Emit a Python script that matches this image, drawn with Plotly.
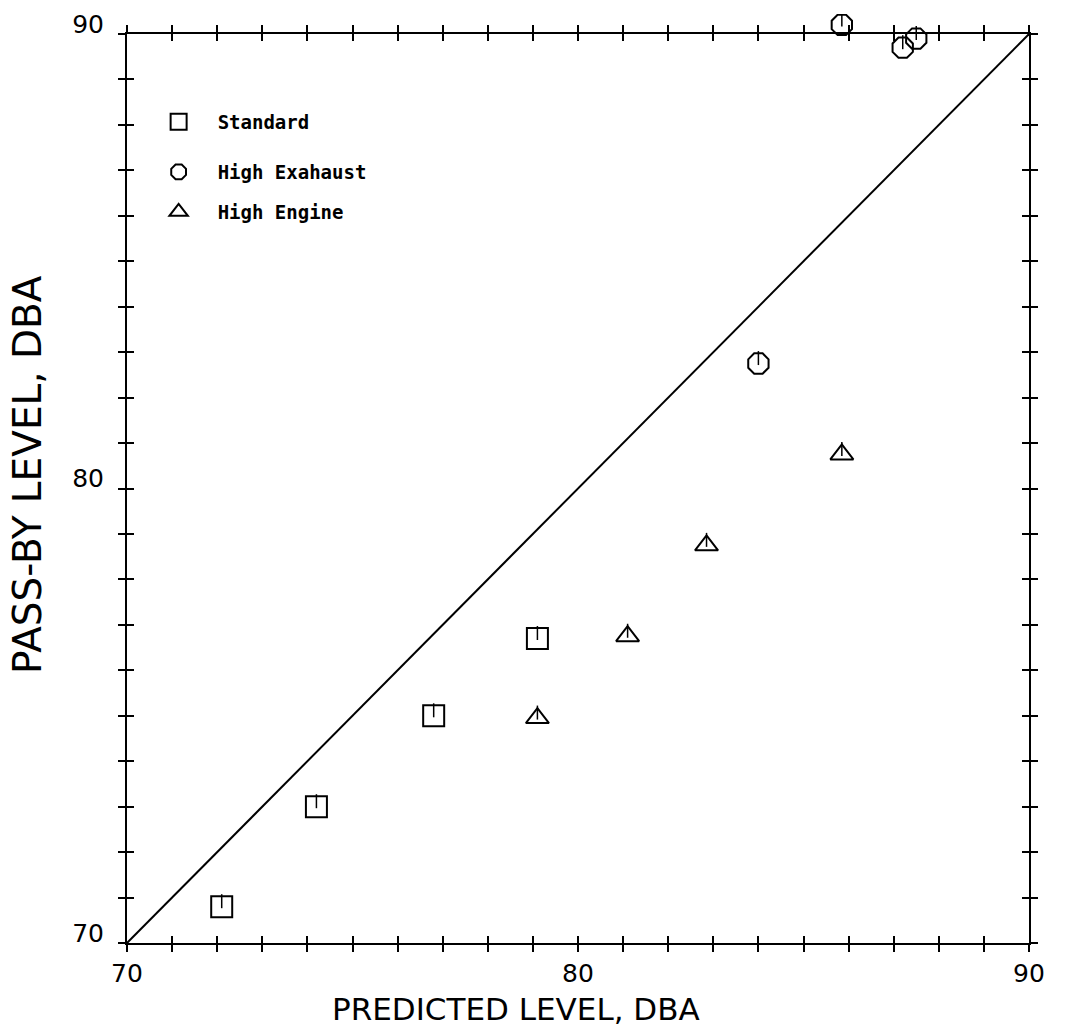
import plotly.graph_objects as go

# ---- data ----
std_x = [72.1, 74.2, 76.8, 79.1]
std_y = [70.8, 73.0, 75.0, 76.7]
exh_x = [85.85, 87.2, 87.5, 84.0]
exh_y = [90.2, 89.7, 89.9, 82.75]
eng_x = [79.1, 81.1, 82.85, 85.85]
eng_y = [74.95, 76.75, 78.75, 80.75]
diag = [70, 90]

series_names = ["Standard", "High Exahaust", "High Engine"]
tick_vals = [70, 80, 90]
tick_text = ["70", "80", "90"]
x_title = "PREDICTED LEVEL, DBA"
y_title = "PASS-BY LEVEL, DBA"

AX_RANGE = [70, 90]
TICK_FONT = dict(family="DejaVu Sans", size=25, color="black")
LEG_FONT = dict(family="DejaVu Sans Mono", size=19, color="black", weight="bold")
mark_line = dict(color="black", width=2)

# layout geometry
H, W = 1031, 1065
M_T, M_B, M_L, M_R = 14, 88, 127, 36
PLOT_H_PX = 909                       # height of the framed plot box
PAPER_H = H - M_T - M_B               # 929
main_top = PLOT_H_PX / PAPER_H
ext_range = [AX_RANGE[0], AX_RANGE[0] + (AX_RANGE[1] - AX_RANGE[0]) / main_top]

fig = go.Figure()

fig.add_trace(go.Scatter(x=diag, y=diag, mode="lines",
                         line=dict(color="black", width=2),
                         showlegend=False, hoverinfo="skip"))

fig.add_trace(go.Scatter(x=std_x, y=std_y, mode="markers", name=series_names[0],
                         marker=dict(symbol="square-open", size=21, line=mark_line, color="black"),
                         legend="legend"))
# exhaust points sit on the top frame; drawn on an extended (hidden) subplot so none are culled
fig.add_trace(go.Scatter(x=exh_x, y=exh_y, mode="markers", name=series_names[1],
                         marker=dict(symbol="octagon-open", size=22, line=mark_line, color="black"),
                         legend="legend2", xaxis="x3", yaxis="y3"))
fig.add_trace(go.Scatter(x=eng_x, y=eng_y, mode="markers", name=series_names[2],
                         marker=dict(symbol="triangle-up-open", size=20, line=mark_line, color="black"),
                         legend="legend3"))

# small inner strokes of the plotting symbols
inner_off = 0.12
for xs, ys in [(std_x, std_y), (exh_x, exh_y), (eng_x, eng_y)]:
    fig.add_trace(go.Scatter(x=xs, y=[v + inner_off for v in ys], mode="markers",
                             marker=dict(symbol="line-ns", size=10,
                                         line=dict(color="black", width=1.5)),
                             showlegend=False, hoverinfo="skip", xaxis="x3", yaxis="y3"))

# invisible trace to activate overlay axes (inside ticks)
fig.add_trace(go.Scatter(x=[diag[0]], y=[diag[0]], xaxis="x2", yaxis="y2", mode="markers",
                         marker=dict(opacity=0), showlegend=False, hoverinfo="skip"))

common = dict(range=AX_RANGE, showgrid=False, zeroline=False, showline=True,
              linecolor="black", linewidth=2, mirror="ticks", automargin=False,
              tickvals=tick_vals, ticklen=7, tickwidth=2, tickcolor="black")

leg_common = dict(x=0.014, xanchor="left", yanchor="middle", font=LEG_FONT,
                  bgcolor="rgba(0,0,0,0)", itemwidth=68)

fig.update_layout(
    xaxis=dict(**common, ticks="outside", ticktext=tick_text, tickfont=TICK_FONT,
               ticklabelstandoff=0,
               minor=dict(dtick=1, ticks="outside", ticklen=7, tickwidth=2, tickcolor="black")),
    yaxis=dict(**common, ticks="outside", ticktext=tick_text, tickfont=TICK_FONT,
               domain=[0, main_top], ticklabelstandoff=9, ticklabelshift=-10,
               minor=dict(dtick=1, ticks="outside", ticklen=7, tickwidth=2, tickcolor="black")),
    xaxis2=dict(**common, overlaying="x", anchor="y2", side="bottom", ticks="inside",
                showticklabels=False,
                minor=dict(dtick=1, ticks="inside", ticklen=7, tickwidth=2, tickcolor="black")),
    yaxis2=dict(**common, overlaying="y", anchor="x2", side="left", ticks="inside",
                showticklabels=False,
                minor=dict(dtick=1, ticks="inside", ticklen=7, tickwidth=2, tickcolor="black")),
    xaxis3=dict(range=AX_RANGE, domain=[0, 1], anchor="y3", visible=False, automargin=False),
    yaxis3=dict(range=ext_range, domain=[0, 1], anchor="x3", visible=False, automargin=False),
    width=W, height=H,
    margin=dict(l=M_L, r=M_R, t=M_T, b=M_B, autoexpand=False),
    plot_bgcolor="rgba(0,0,0,0)", paper_bgcolor="white",
    legend=dict(**leg_common, y=(943 - 122) / PAPER_H),
    legend2=dict(**leg_common, y=(943 - 172) / PAPER_H),
    legend3=dict(**leg_common, y=(943 - 212) / PAPER_H),
    annotations=[
        dict(text=x_title, xref="paper", yref="paper", x=0.431, y=(943 - 1029) / PAPER_H,
             xanchor="center", yanchor="bottom", showarrow=False,
             font=dict(family="DejaVu Sans", size=31, color="black")),
        dict(text=y_title, xref="paper", yref="paper", x=-0.111, y=(943 - 474) / PAPER_H,
             xanchor="center", yanchor="middle", showarrow=False, textangle=-90,
             font=dict(family="DejaVu Sans", size=39, color="black")),
    ],
)

fig.write_html("out.html")
